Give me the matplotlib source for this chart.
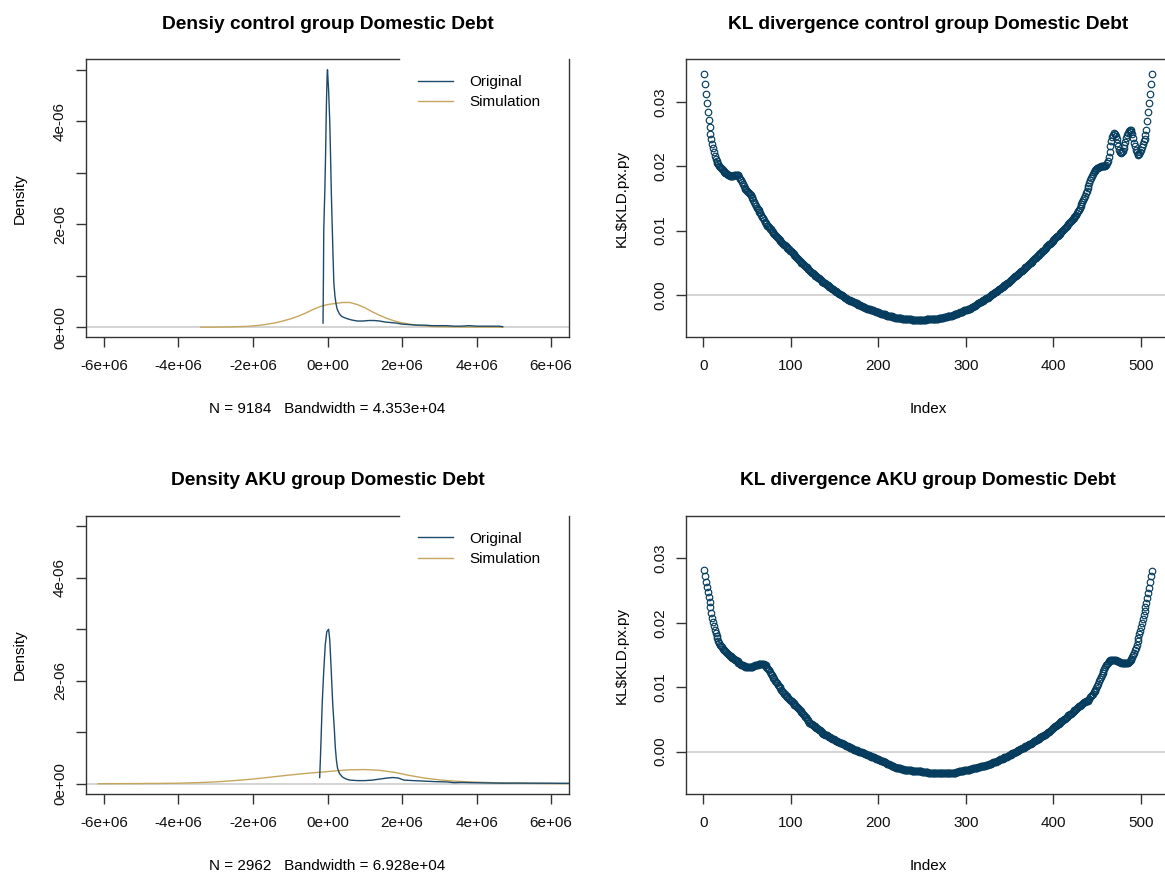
import numpy as np
import matplotlib
matplotlib.use("Agg")
from matplotlib import pyplot as plt
from matplotlib.ticker import FixedLocator, FuncFormatter

plt.rcParams["font.family"] = ["Liberation Sans", "DejaVu Sans"]

# Colores
col_orig = "#1d4a6b"
col_sim = "#c6a65c"
col_kl = "#063d5e"
col_cero = "#cccccc"
col_marco = "#333333"

# Densidad grupo control (x en millones, densidad en 1e-06)
ctrl_x_orig = [-0.12, -0.11, -0.10, -0.07, -0.05, -0.03, -0.01, 0.0, 0.03, 0.06, 0.08, 0.10,
               0.125, 0.15, 0.17, 0.20, 0.23, 0.26, 0.32, 0.38, 0.44, 0.55, 0.65, 0.8, 0.95,
               1.1, 1.25, 1.4, 1.55, 1.7, 1.85, 2.0, 2.2, 2.4, 2.6, 2.8, 3.0, 3.2, 3.4, 3.6,
               3.8, 4.0, 4.2, 4.4, 4.6, 4.7]
ctrl_y_orig = [0.08, 0.9, 1.9, 2.7, 3.4, 4.3, 4.9, 5.0, 4.6, 4.0, 3.4, 2.7,
               2.0, 1.35, 0.87, 0.6, 0.45, 0.35, 0.26, 0.21, 0.19, 0.16, 0.14, 0.12, 0.12,
               0.13, 0.13, 0.12, 0.10, 0.09, 0.08, 0.06, 0.05, 0.04, 0.04, 0.03, 0.03, 0.03, 0.02, 0.02,
               0.03, 0.02, 0.02, 0.02, 0.02, 0.01]
ctrl_x_sim = [-3.4, -3.0, -2.6, -2.2, -2.0, -1.8, -1.6, -1.4, -1.2, -1.0, -0.8, -0.6, -0.4, -0.2,
              0.0, 0.2, 0.4, 0.6, 0.8, 1.0, 1.2, 1.4, 1.6, 1.8, 2.0, 2.2, 2.4, 2.6, 2.8, 3.0,
              3.4, 3.8, 4.2, 4.7]
ctrl_y_sim = [0.0, 0.002, 0.006, 0.015, 0.025, 0.04, 0.06, 0.085, 0.12, 0.16, 0.21, 0.27, 0.34, 0.40,
              0.44, 0.46, 0.48, 0.48, 0.44, 0.38, 0.30, 0.23, 0.17, 0.12, 0.085, 0.06, 0.04, 0.025, 0.015, 0.01,
              0.005, 0.002, 0.001, 0.0]

# Densidad grupo AKU
aku_x_orig = [-0.21, -0.19, -0.17, -0.14, -0.10, -0.06, -0.02, 0.03, 0.06, 0.10, 0.14, 0.18,
              0.21, 0.24, 0.27, 0.32, 0.4, 0.5, 0.6, 0.8, 1.0, 1.2, 1.4, 1.6, 1.75, 1.9,
              2.05, 2.3, 2.6, 2.9, 3.2, 3.4, 3.6, 3.9, 4.3, 4.7, 5.1, 5.5, 5.9, 6.2, 6.48]
aku_y_orig = [0.12, 0.5, 0.93, 1.6, 2.2, 2.7, 2.95, 3.0, 2.8, 2.2, 1.55, 1.1,
              0.7, 0.45, 0.3, 0.2, 0.13, 0.09, 0.07, 0.06, 0.06, 0.07, 0.09, 0.11, 0.12, 0.11,
              0.07, 0.06, 0.05, 0.04, 0.035, 0.02, 0.025, 0.02, 0.015, 0.01, 0.012, 0.01, 0.01, 0.008, 0.008]
aku_x_sim = [-6.15, -5.5, -5.0, -4.5, -4.0, -3.5, -3.0, -2.5, -2.0, -1.5, -1.0, -0.5, 0.0, 0.3,
             0.6, 1.0, 1.4, 1.8, 2.2, 2.6, 3.0, 3.4, 3.8, 4.2, 4.6, 5.0, 5.5, 6.0, 6.5]
aku_y_sim = [0.0, 0.002, 0.003, 0.006, 0.01, 0.02, 0.035, 0.06, 0.09, 0.13, 0.17, 0.205, 0.235, 0.255,
             0.27, 0.275, 0.26, 0.22, 0.16, 0.11, 0.075, 0.05, 0.035, 0.025, 0.017, 0.012, 0.007, 0.004, 0.002]

# KL divergencia (en 1e-04), un valor por indice 1..512
kl_ctrl = [
    344, 328, 312, 299, 285, 272, 261, 251, 243, 235, 228, 222, 216, 212, 208, 205, 203, 201, 199, 197,
    196, 194, 193, 191, 190, 189, 188, 187, 186, 185, 185, 185, 185, 185, 186, 186, 187, 187, 187, 186,
    184, 181, 178, 175, 172, 169, 167, 165, 163, 162, 160, 158, 157, 155, 153, 150, 147, 144, 141, 138,
    136, 134, 132, 129, 127, 124, 122, 119, 117, 114, 112, 110, 108, 107, 105, 103, 102, 100, 98, 97,
    95, 94, 92, 90, 89, 87, 86, 84, 83, 81, 80, 78, 77, 76, 75, 73, 72, 71, 69, 68,
    67, 65, 64, 62, 61, 59, 58, 56, 55, 53, 52, 50, 49, 48, 46, 45, 44, 43, 41, 40,
    39, 38, 36, 35, 34, 33, 31, 30, 29, 28, 27, 26, 25, 24, 22, 21, 20, 19, 18, 17,
    16, 15, 14, 13, 12, 11, 10, 9, 8, 7, 6, 5, 4, 3, 2, 1, 0, 0, -1, -2,
    -3, -4, -5, -6, -7, -7, -8, -9, -9, -10, -11, -11, -12, -13, -13, -14, -15, -16, -16, -17,
    -17, -18, -19, -19, -20, -20, -21, -21, -22, -22, -23, -23, -24, -24, -25, -25, -26, -26, -27, -27,
    -28, -28, -29, -29, -30, -30, -30, -31, -31, -32, -32, -32, -33, -33, -33, -34, -34, -34, -35, -35,
    -35, -35, -36, -36, -36, -36, -37, -37, -37, -37, -37, -38, -38, -38, -38, -38, -38, -39, -39, -39,
    -39, -39, -39, -39, -39, -39, -39, -39, -39, -39, -39, -39, -39, -39, -38, -38, -38, -38, -38, -38,
    -38, -38, -38, -38, -37, -37, -37, -37, -36, -36, -36, -35, -35, -35, -34, -34, -34, -34, -33, -33,
    -33, -32, -32, -32, -31, -31, -30, -30, -29, -29, -28, -28, -27, -27, -26, -26, -25, -24, -24, -23,
    -23, -22, -22, -21, -21, -20, -19, -18, -17, -17, -16, -15, -14, -13, -12, -11, -11, -10, -9, -8,
    -7, -6, -5, -5, -4, -3, -2, -1, 0, 1, 2, 3, 4, 5, 6, 7, 8, 9, 10, 11,
    12, 13, 14, 15, 16, 17, 18, 19, 20, 22, 23, 24, 25, 26, 28, 29, 30, 31, 32, 33,
    35, 36, 37, 38, 39, 41, 42, 43, 44, 45, 46, 48, 49, 50, 52, 53, 54, 56, 57, 58,
    60, 61, 62, 64, 65, 66, 68, 69, 70, 72, 73, 74, 76, 77, 79, 80, 81, 83, 84, 86,
    87, 88, 90, 91, 92, 94, 95, 97, 98, 99, 101, 102, 104, 105, 107, 108, 110, 112, 113, 115,
    116, 118, 120, 121, 123, 125, 128, 130, 132, 135, 138, 141, 144, 147, 150, 154, 158, 162, 166, 170,
    174, 178, 182, 185, 188, 191, 193, 195, 196, 197, 198, 199, 199, 200, 200, 200, 200, 200, 201, 202,
    205, 209, 215, 223, 232, 239, 245, 249, 252, 251, 247, 242, 236, 231, 226, 222, 221, 222, 224, 228,
    233, 238, 244, 249, 252, 255, 256, 256, 254, 250, 244, 237, 231, 226, 222, 219, 218, 219, 222, 226,
    230, 234, 239, 243, 248, 257, 271, 285, 299, 312, 328, 344,
]

kl_aku = [
    282, 273, 264, 256, 248, 240, 232, 224, 216, 208, 201, 195, 189, 184, 180, 176, 172, 169, 166, 164,
    162, 160, 158, 157, 156, 154, 153, 152, 150, 149, 148, 147, 146, 145, 144, 143, 142, 141, 140, 138,
    137, 136, 135, 134, 134, 133, 133, 132, 132, 132, 131, 131, 131, 131, 132, 132, 133, 133, 134, 134,
    135, 135, 136, 136, 136, 136, 136, 136, 136, 135, 134, 132, 130, 128, 126, 124, 121, 119, 116, 114,
    112, 110, 108, 106, 104, 102, 100, 98, 96, 94, 92, 90, 89, 87, 86, 84, 83, 81, 80, 79,
    78, 76, 75, 73, 72, 70, 69, 67, 66, 64, 63, 61, 60, 58, 56, 54, 53, 51, 49, 47,
    45, 44, 43, 42, 41, 40, 39, 38, 37, 36, 35, 34, 33, 32, 30, 29, 28, 27, 26, 25,
    25, 24, 23, 22, 22, 21, 20, 19, 19, 18, 17, 17, 16, 15, 15, 14, 13, 13, 12, 11,
    11, 10, 9, 9, 8, 7, 7, 6, 5, 5, 4, 3, 3, 2, 2, 1, 1, 0, 0, -1,
    -1, -2, -2, -3, -4, -4, -5, -5, -6, -7, -7, -8, -8, -9, -9, -10, -11, -11, -12, -12,
    -13, -13, -14, -15, -15, -16, -17, -17, -18, -19, -19, -20, -21, -21, -22, -22, -23, -24, -24, -25,
    -25, -25, -26, -26, -26, -27, -27, -27, -28, -28, -28, -28, -29, -29, -29, -29, -29, -30, -30, -30,
    -30, -30, -30, -31, -31, -31, -31, -31, -31, -32, -32, -32, -32, -32, -32, -32, -33, -33, -33, -33,
    -33, -33, -33, -33, -33, -33, -33, -33, -33, -33, -33, -33, -33, -33, -33, -33, -33, -33, -33, -33,
    -33, -33, -33, -33, -33, -33, -33, -33, -32, -32, -32, -31, -31, -31, -30, -30, -30, -29, -29, -29,
    -28, -28, -28, -28, -27, -27, -27, -26, -26, -26, -25, -25, -25, -24, -24, -24, -23, -23, -23, -22,
    -22, -22, -21, -21, -21, -20, -20, -19, -19, -18, -17, -17, -16, -16, -15, -14, -14, -13, -12, -12,
    -11, -11, -10, -9, -9, -8, -8, -7, -6, -5, -5, -4, -3, -2, -2, -1, 0, 1, 1, 2,
    3, 4, 4, 5, 6, 6, 7, 8, 8, 9, 10, 11, 12, 12, 13, 14, 15, 16, 17, 18,
    18, 19, 20, 21, 22, 23, 24, 24, 25, 26, 27, 28, 29, 30, 31, 32, 33, 35, 36, 37,
    38, 39, 40, 41, 42, 43, 44, 46, 47, 48, 49, 50, 51, 52, 53, 54, 56, 57, 58, 59,
    60, 62, 63, 64, 65, 66, 67, 69, 70, 71, 72, 73, 74, 76, 77, 77, 78, 78, 79, 80,
    82, 84, 86, 88, 90, 92, 94, 96, 99, 102, 105, 109, 112, 116, 119, 122, 125, 128, 131, 134,
    136, 138, 140, 141, 142, 143, 143, 143, 143, 142, 142, 141, 141, 140, 139, 139, 138, 138, 137, 137,
    137, 137, 137, 137, 138, 139, 140, 142, 144, 147, 150, 153, 157, 161, 166, 171, 176, 182, 188, 194,
    200, 206, 212, 218, 224, 231, 238, 246, 254, 263, 272, 281,
]

W, H = 1165, 872
fs_tick = 11
fs_title = 13.8


def marco(ax):
    for s in ax.spines.values():
        s.set_linewidth(1.0)
        s.set_color(col_marco)
    ax.tick_params(length=7.2, width=1.0, color=col_marco, labelsize=fs_tick,
                   labelcolor="#111111")
    ax.tick_params(axis="x", pad=8.5)
    ax.tick_params(axis="y", pad=6.5)


def panel_densidad(ax, x_o, y_o, x_s, y_s, titulo, sub):
    ax.axhline(0, color=col_cero, lw=1.2, zorder=1)
    ax.plot(np.array(x_o) * 1e6, np.array(y_o) * 1e-6, color=col_orig, lw=1.0,
            label="Original", zorder=3)
    ax.plot(np.array(x_s) * 1e6, np.array(y_s) * 1e-6, color=col_sim, lw=1.0,
            label="Simulation", zorder=2)
    ax.set_xlim(-6.48e6, 6.48e6)
    ax.set_ylim(-0.2e-6, 5.2e-6)
    ax.xaxis.set_major_locator(FixedLocator([-6e6, -4e6, -2e6, 0, 2e6, 4e6, 6e6]))
    ax.xaxis.set_major_formatter(FuncFormatter(lambda v, p: format(v, ".0e")))
    yt = [0, 1e-6, 2e-6, 3e-6, 4e-6, 5e-6]
    ax.set_yticks(yt, labels=["0e+00", "", "2e-06", "", "4e-06", ""])
    plt.setp(ax.get_yticklabels(), rotation=90, va="center")
    marco(ax)
    # la caja de la leyenda tapa parte del borde superior
    ax.spines["top"].set_bounds(-6.48e6, 1.93e6)
    ax.set_title(titulo, fontsize=fs_title, fontweight="bold", pad=22)
    ax.set_xlabel(sub, fontsize=fs_tick, labelpad=21)
    ax.set_ylabel("Density", fontsize=fs_tick, labelpad=19)
    ax.legend(loc="upper left", bbox_to_anchor=(0.687, 0.944), frameon=False,
              fontsize=fs_tick, handlelength=2.3, handletextpad=1.05,
              labelspacing=0.42, borderpad=0, borderaxespad=0)


def panel_kl(ax, valores, titulo):
    idx = np.arange(1, len(valores) + 1)
    ax.axhline(0, color=col_cero, lw=1.2, zorder=1)
    ax.plot(idx, np.array(valores) * 1e-4, ls="none", marker="o", mfc="none",
            mec=col_kl, ms=4.7, mew=0.85, zorder=2)
    ax.set_xlim(-19.44, 532.44)
    ax.set_ylim(-0.0066, 0.0366)
    ax.set_xticks([0, 100, 200, 300, 400, 500])
    ax.set_yticks([0.0, 0.01, 0.02, 0.03], labels=["0.00", "0.01", "0.02", "0.03"])
    plt.setp(ax.get_yticklabels(), rotation=90, va="center")
    marco(ax)
    ax.set_title(titulo, fontsize=fs_title, fontweight="bold", pad=22)
    ax.set_xlabel("Index", fontsize=fs_tick, labelpad=21)
    ax.set_ylabel("KL$KLD.px.py", fontsize=fs_tick, labelpad=18)


fig = plt.figure(figsize=(W / 100, H / 100), dpi=100)
ancho = 483 / W
alto = 278 / H
ax1 = fig.add_axes([86 / W, (H - 337.5) / H, ancho, alto])
ax2 = fig.add_axes([686.4 / W, (H - 337.5) / H, ancho, alto])
ax3 = fig.add_axes([86 / W, (H - 794) / H, ancho, alto])
ax4 = fig.add_axes([686.4 / W, (H - 794) / H, ancho, alto])

panel_densidad(ax1, ctrl_x_orig, ctrl_y_orig, ctrl_x_sim, ctrl_y_sim,
               "Densiy control group Domestic Debt",
               "N = 9184   Bandwidth = 4.353e+04")
panel_kl(ax2, kl_ctrl, "KL divergence control group Domestic Debt")
panel_densidad(ax3, aku_x_orig, aku_y_orig, aku_x_sim, aku_y_sim,
               "Density AKU group Domestic Debt",
               "N = 2962   Bandwidth = 6.928e+04")
panel_kl(ax4, kl_aku, "KL divergence AKU group Domestic Debt")

fig.savefig("out.png", dpi=100)
plt.close(fig)
